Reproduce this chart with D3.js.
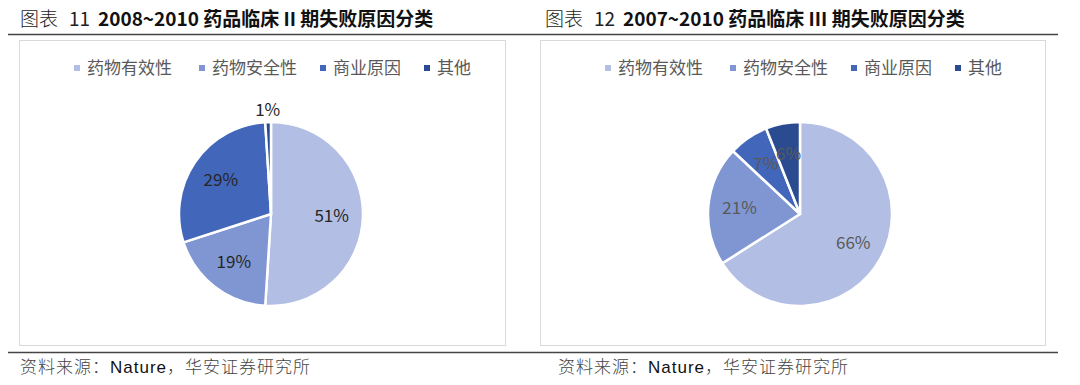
<!DOCTYPE html>
<meta charset="utf-8">
<style>
    body { margin: 0; background: #fff; }
    text { font-family: "Noto Sans CJK SC", "Liberation Sans", sans-serif; }
</style>
<body>
<script src="https://d3js.org/d3.v7.min.js"></script>
<script>
    // data
    var categories = ["药物有效性", "药物安全性", "商业原因", "其他"];
    var phase2Values = [51, 19, 29, 1];
    var phase3Values = [66, 21, 7, 6];
    var titleNums = ["11", "12"];
    var titleTexts = ["2008~2010 药品临床 II 期失败原因分类", "2007~2010 药品临床 III 期失败原因分类"];
    var colors = ["#b2bee3", "#7f96d3", "#4166ba", "#2b4b91"];

    var width = 1080, height = 385;

    var svg = d3.select("body").append("svg")
        .attr("width", width)
        .attr("height", height);

    var color = d3.scaleOrdinal().domain(categories).range(colors);

    var panels = [
        {titleX: 20, srcX: 20, lineX0: 8, lineX1: 540, boxX: 19, boxW: 486, cx: 271, values: phase2Values, labelColor: "#262626", legendX: 77},
        {titleX: 545, srcX: 558, lineX0: 540, lineX1: 1058, boxX: 540, boxW: 505, cx: 800, values: phase3Values, labelColor: "#595959", legendX: 608}
    ];

    var pie = d3.pie().sort(null).value(d => d.value);
    var radius = 92, cy = 214;
    var arc = d3.arc().innerRadius(0).outerRadius(radius);
    var labelArc = d3.arc().innerRadius(radius * 0.66).outerRadius(radius * 0.66);
    var outArc = d3.arc().innerRadius(radius + 12).outerRadius(radius + 12);

    panels.forEach(function(p, pi) {
        // title
        svg.append("text")
            .attr("x", p.titleX).attr("y", 26)
            .attr("font-size", 19).attr("font-weight", 300).attr("fill", "#222")
            .text("图表");
        svg.append("text")
            .attr("x", p.titleX + 49).attr("y", 26)
            .attr("font-size", 19).attr("font-family", "Liberation Serif").attr("fill", "#222")
            .text(titleNums[pi]);
        svg.append("text")
            .attr("x", p.titleX + 78).attr("y", 26)
            .attr("font-size", 19).attr("font-weight", "bold").attr("fill", "#111")
            .text(titleTexts[pi]);

        svg.append("line")
            .attr("x1", p.lineX0).attr("x2", p.lineX1)
            .attr("y1", 34.5).attr("y2", 34.5)
            .attr("stroke", "#444").attr("stroke-width", 1.5);

        svg.append("rect")
            .attr("x", p.boxX + 0.5).attr("y", 40.5)
            .attr("width", p.boxW).attr("height", 305)
            .attr("fill", "#fff").attr("stroke", "#d9d9d9");

        svg.append("line")
            .attr("x1", p.lineX0).attr("x2", p.lineX1)
            .attr("y1", 352.5).attr("y2", 352.5)
            .attr("stroke", "#444").attr("stroke-width", 1.5);

        var src = svg.append("text")
            .attr("x", p.srcX).attr("y", 373)
            .attr("font-size", 17).attr("letter-spacing", 1).attr("fill", "#444");
        src.append("tspan").text("资料来源：").attr("font-weight", 300);
        src.append("tspan").text("Nature").attr("font-family", "Liberation Sans").attr("fill", "#111");
        src.append("tspan").text("，华安证券研究所").attr("font-weight", 300);

        // legend
        var legendSteps = [0, 125, 246, 350];
        var legend = svg.append("g")
            .attr("transform", "translate(" + p.legendX + ",68)");
        categories.forEach(function(c, i) {
            var row = legend.append("g").attr("transform", "translate(" + legendSteps[i] + ",0)");
            row.append("rect").attr("x", -3).attr("y", -3).attr("width", 6).attr("height", 6)
                .attr("fill", color(c));
            row.append("text").attr("x", 10).attr("y", 6)
                .attr("font-size", 17).attr("fill", "#595959").text(c);
        });

        var data = categories.map((c, i) => ({name: c, value: p.values[i]}));
        var g = svg.append("g").attr("transform", "translate(" + p.cx + "," + cy + ")");
        var arcs = pie(data);

        g.selectAll("path").data(arcs).enter().append("path")
            .attr("d", arc)
            .attr("fill", d => color(d.data.name))
            .attr("stroke", "#fff").attr("stroke-width", 2.5)
            .attr("stroke-linejoin", "round");

        g.selectAll("text.lbl").data(arcs).enter().append("text")
            .attr("class", "lbl")
            .attr("transform", function(d) {
                var c = (d.data.value < 3 ? outArc : labelArc).centroid(d);
                return "translate(" + c[0] + "," + c[1] + ")";
            })
            .attr("text-anchor", "middle")
            .attr("dy", "0.35em")
            .attr("font-size", 17)
            .attr("fill", p.labelColor)
            .text(d => d.data.value + "%");
    });
</script>
</body>
</html>
